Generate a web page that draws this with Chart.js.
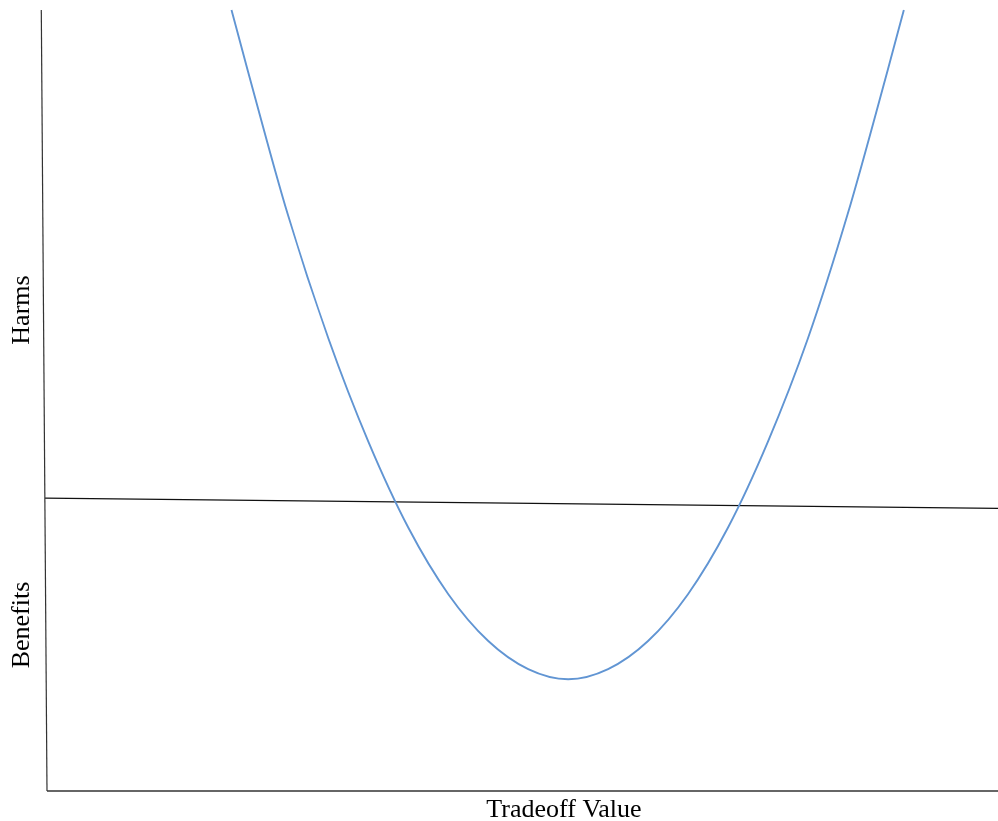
<!DOCTYPE html>
<html>
<head>
<meta charset="utf-8">
<script src="https://cdn.jsdelivr.net/npm/chart.js@4"></script>
<style>
  html, body { margin: 0; padding: 0; background: #fff; }
  #wrap { width: 998px; height: 821px; position: relative; }
</style>
</head>
<body>
<div id="wrap"><canvas id="tradeoffChart"></canvas></div>
<script>
// tradeoff curve (x = tradeoff value, y = harm/benefit level)
const curveX = [19.4, 21.1, 25.3, 29.6, 33.8, 38.0, 42.2, 46.4, 50.6, 54.8, 59.0, 63.2, 67.4, 71.6, 75.8, 80.0, 84.2, 88.4, 90.1];
const curveY = [100.0, 92.3, 73.9, 57.9, 44.7, 33.7, 25.2, 19.2, 15.6, 14.3, 15.6, 19.2, 25.2, 33.7, 44.7, 57.9, 73.9, 92.3, 100.0];

// harms / benefits divider (slightly sloped in the original)
const dividerX = [-0.2, 100];
const dividerY = [37.5, 36.2];

// hand drawn axes
const yAxisX = [-0.6, 0];
const yAxisY = [100, 0];
const xAxisX = [0, 100];
const xAxisY = [0, 0];

const labels = { harms: "Harms", benefits: "Benefits", xTitle: "Tradeoff Value" };

function toPoints(xs, ys) {
  return xs.map((x, i) => ({ x: x, y: ys[i] }));
}

const textPlugin = {
  id: "axisText",
  afterDraw(chart) {
    const ctx = chart.ctx;
    ctx.save();
    ctx.fillStyle = "#000";
    ctx.font = "26px 'Liberation Serif', 'DejaVu Serif', serif";
    ctx.textAlign = "center";
    ctx.textBaseline = "middle";

    ctx.save();
    ctx.translate(22, 310);
    ctx.rotate(-Math.PI / 2);
    ctx.fillText(labels.harms, 0, 0);
    ctx.restore();

    ctx.save();
    ctx.translate(22, 625);
    ctx.rotate(-Math.PI / 2);
    ctx.fillText(labels.benefits, 0, 0);
    ctx.restore();

    ctx.textBaseline = "alphabetic";
    ctx.fillText(labels.xTitle, 564, 817);
    ctx.restore();
  },
};

const ctx = document.getElementById("tradeoffChart").getContext("2d");
new Chart(ctx, {
  type: "scatter",
  data: {
    datasets: [
      {
        data: toPoints(curveX, curveY),
        showLine: true,
        borderColor: "#6195d3",
        borderWidth: 1.9,
        pointRadius: 0,
        cubicInterpolationMode: "monotone",
        clip: false,
      },
      {
        data: toPoints(dividerX, dividerY),
        showLine: true,
        borderColor: "#111",
        borderWidth: 1.2,
        pointRadius: 0,
        clip: false,
      },
      {
        data: toPoints(yAxisX, yAxisY),
        showLine: true,
        borderColor: "#333",
        borderWidth: 1.2,
        pointRadius: 0,
        clip: false,
      },
      {
        data: toPoints(xAxisX, xAxisY),
        showLine: true,
        borderColor: "#333",
        borderWidth: 1.5,
        pointRadius: 0,
        clip: false,
      },
    ],
  },
  options: {
    responsive: true,
    maintainAspectRatio: false,
    animation: false,
    layout: { padding: { left: 47, right: 0, top: 10, bottom: 30 } },
    plugins: {
      legend: { display: false },
      tooltip: { enabled: false },
    },
    scales: {
      x: { type: "linear", min: 0, max: 100, display: false },
      y: { type: "linear", min: 0, max: 100, display: false },
    },
  },
  plugins: [textPlugin],
});
</script>
</body>
</html>
